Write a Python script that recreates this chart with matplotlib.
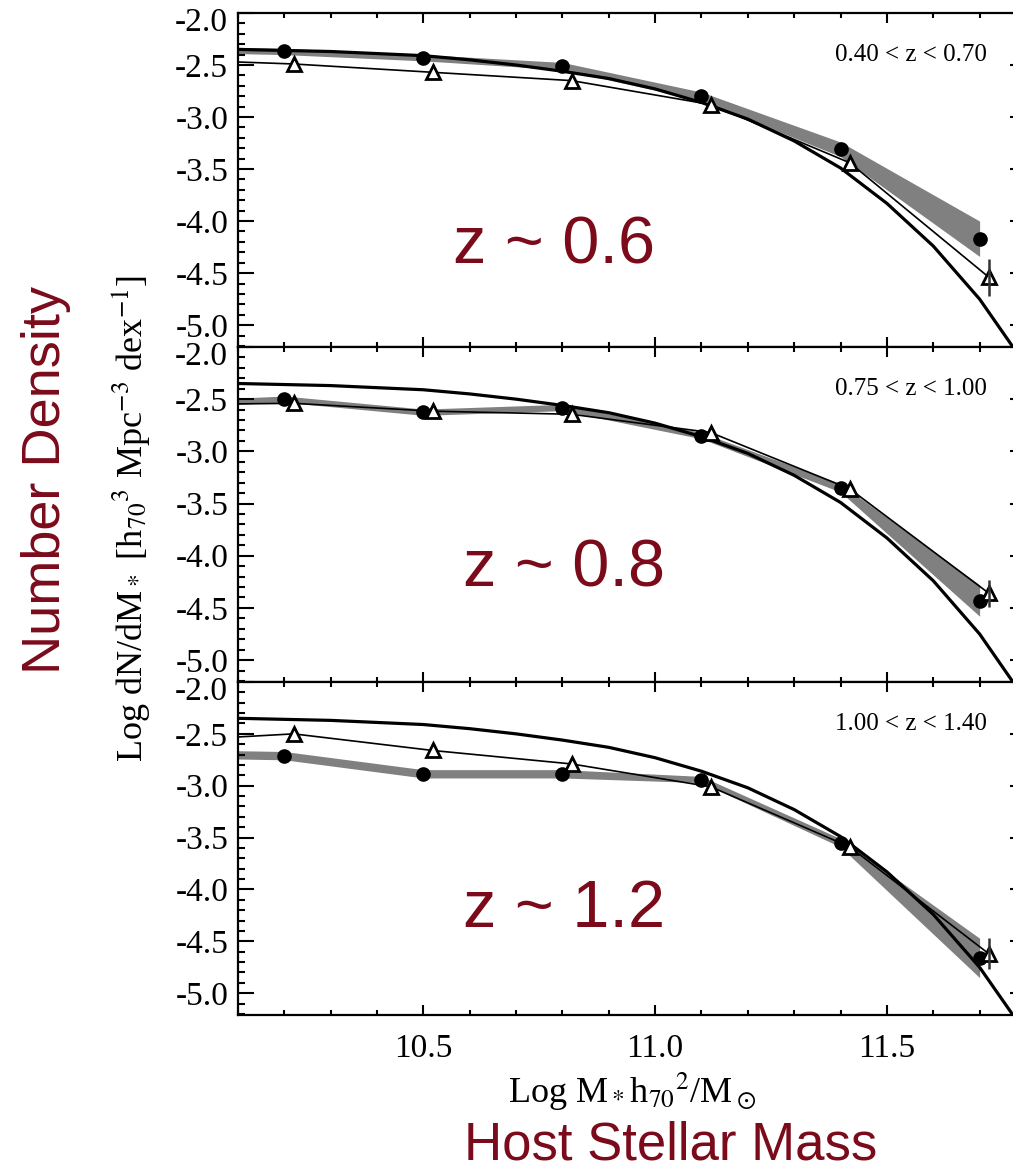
import numpy as np
import matplotlib
matplotlib.use('Agg')
import matplotlib.pyplot as plt
from matplotlib.ticker import MultipleLocator
from matplotlib import transforms

plt.rcParams['font.family'] = ['Liberation Serif', 'DejaVu Serif']
plt.rcParams['mathtext.fontset'] = 'stix'
plt.rcParams['axes.unicode_minus'] = False

dark_red = '#7b0b1b'

# redshift bins
bin_names = ['z ~ 0.6', 'z ~ 0.8', 'z ~ 1.2']
bin_ranges = ['0.40 < z < 0.70', '0.75 < z < 1.00', '1.00 < z < 1.40']

# host mass bins (first entry sits off the left edge, only the lines reach it)
circ_mass = [10.0, 10.2, 10.5, 10.8, 11.1, 11.4, 11.7]
tri_mass = [10.0, 10.22, 10.52, 10.82, 11.12, 11.42, 11.72]

# filled circles + grey band (half width of band)
circ_p1 = [-2.35, -2.37, -2.43, -2.51, -2.80, -3.31, -4.17]
circ_p2 = [-2.54, -2.50, -2.625, -2.58, -2.85, -3.35, -4.43]
circ_p3 = [-2.695, -2.71, -2.885, -2.885, -2.94, -3.55, -4.66]
band_p1 = [0.03, 0.03, 0.03, 0.035, 0.04, 0.07, 0.17]
band_p2 = [0.03, 0.03, 0.03, 0.03, 0.03, 0.04, 0.15]
band_p3 = [0.04, 0.04, 0.04, 0.04, 0.03, 0.04, 0.19]

# open triangles, error only on the most massive bin
tri_p1 = [-2.455, -2.49, -2.57, -2.65, -2.88, -3.44, -4.54]
tri_p2 = [-2.55, -2.54, -2.615, -2.645, -2.82, -3.36, -4.36]
tri_p3 = [-2.555, -2.50, -2.66, -2.79, -3.01, -3.59, -4.62]
tri_err = [0.18, 0.13, 0.15]

# reference mass function, same in every panel
model_mass = [10.1, 10.2, 10.3, 10.4, 10.5, 10.6, 10.7, 10.8, 10.9, 11.0,
              11.1, 11.2, 11.3, 11.4, 11.5, 11.6, 11.7, 11.8]
model_phi = [-2.35, -2.36, -2.37, -2.39, -2.41, -2.45, -2.50, -2.56, -2.63, -2.73,
             -2.86, -3.02, -3.23, -3.49, -3.83, -4.24, -4.75, -5.39]

circ_all = [circ_p1, circ_p2, circ_p3]
band_all = [band_p1, band_p2, band_p3]
tri_all = [tri_p1, tri_p2, tri_p3]

name_pos = [(0.273, 0.251), (0.286, 0.284), (0.286, 0.264)]

fig = plt.figure(figsize=(10.13, 11.71), dpi=100)

panel_bottoms = [0.7037, 0.4176, 0.1332]
panel_heights = [0.2852, 0.2861, 0.2844]


def draw_panel(ax, k):
    cx = np.array(circ_mass)
    cy = np.array(circ_all[k])
    bw = np.array(band_all[k])
    ax.fill_between(cx, cy - bw, cy + bw, color='#808080', lw=0, zorder=1)
    ax.plot(model_mass, model_phi, color='black', lw=2.3, zorder=2)
    ax.plot(tri_mass, tri_all[k], color='black', lw=1.2, zorder=3)
    ax.plot(cx[1:], cy[1:], 'o', color='black', ms=9.5, zorder=4, ls='none')
    ax.plot(tri_mass[1:], tri_all[k][1:], '^', mfc='white', mec='black', mew=2,
            ms=10.5, zorder=5, ls='none')
    ax.errorbar(tri_mass[-1], tri_all[k][-1], yerr=tri_err[k], fmt='none',
                ecolor='#333333', elinewidth=1.8, capsize=0, zorder=6)

    ax.set_xlim(10.1, 11.8)
    ax.set_ylim(-5.21, -2.0)
    ax.xaxis.set_major_locator(MultipleLocator(0.5))
    ax.xaxis.set_minor_locator(MultipleLocator(0.1))
    ax.yaxis.set_major_locator(MultipleLocator(0.5))
    ax.yaxis.set_minor_locator(MultipleLocator(0.1))
    ax.tick_params(which='both', direction='in', top=True, right=True,
                   width=1.5, labelsize=24)
    ax.tick_params(axis='y', which='major', length=11.5, pad=7)
    ax.tick_params(axis='y', which='minor', length=5)
    ax.tick_params(axis='x', which='major', length=7, pad=13)
    ax.tick_params(axis='x', which='minor', length=3.5)
    for s in ax.spines.values():
        s.set_linewidth(1.6)

    yt = [-2.0, -2.5, -3.0, -3.5, -4.0, -4.5, -5.0]
    ax.set_yticks(yt)
    ax.set_yticklabels([''] + ['%.1f' % v for v in yt[1:]])
    # top label pushed down a little so it stays inside the panel
    shift = transforms.offset_copy(ax.get_yaxis_transform(), fig=fig, x=0, y=-7, units='points')
    ax.text(-0.0125, -2.0, '-2.0', transform=shift, ha='right', va='center',
            fontsize=24)

    if k < 2:
        ax.set_xticklabels([])

    ax.text(0.950, 0.875, bin_ranges[k], transform=ax.transAxes, ha='right',
            va='center', fontsize=18)
    ax.text(name_pos[k][0], name_pos[k][1], bin_names[k], transform=ax.transAxes,
            ha='left', va='baseline', fontsize=48, color=dark_red,
            family='Liberation Sans')


for k in range(3):
    ax = fig.add_axes([0.2349, panel_bottoms[k], 0.7779, panel_heights[k]])
    draw_panel(ax, k)

fig.text(0.624, 0.058, r'Log M$_*$h$_{70}$$^2$/M$_\odot$', ha='center',
         va='baseline', fontsize=26)
fig.text(0.129, 0.557, r'Log dN/dM$_*$ [h$_{70}$$^3$ Mpc$^{-3}$ dex$^{-1}$]',
         rotation=90, ha='center', va='center', fontsize=26)
fig.text(0.045, 0.59, 'Number Density', rotation=90, ha='center', va='center',
         fontsize=39, color=dark_red, family='Liberation Sans')
fig.text(0.662, 0.0095, 'Host Stellar Mass', ha='center', va='baseline',
         fontsize=38, color=dark_red, family='Liberation Sans')

fig.savefig('out.png', dpi=100)
